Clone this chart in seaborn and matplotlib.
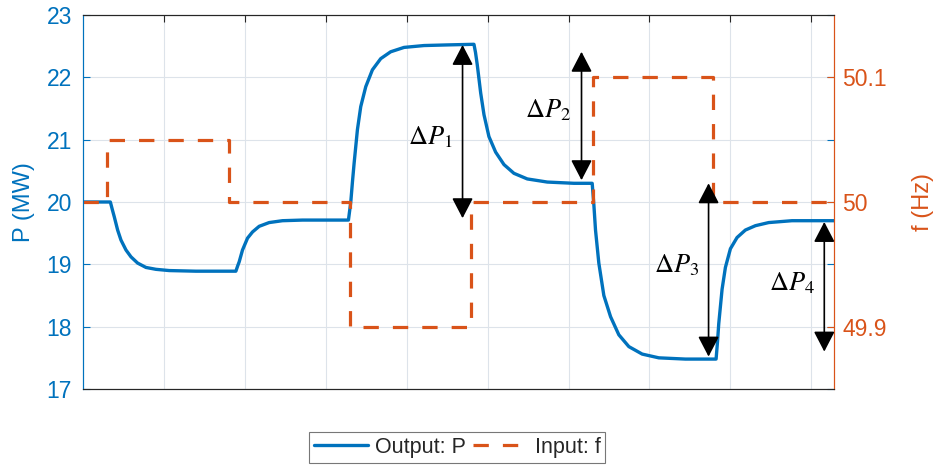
import numpy as np
import pandas as pd
import matplotlib
matplotlib.use("Agg")
import matplotlib.pyplot as plt
import seaborn as sns

# ---- data ----
t_P = [0, 3.38, 3.62, 3.87, 4.28, 4.69, 5.31, 5.93, 6.75, 7.78, 9.01, 10.66, 13.95, 18.89,
       19.10, 19.30, 19.71, 20.33, 20.95, 21.77, 23.00, 24.65, 27.12, 32.8,
       33.09, 33.30, 33.50, 33.91, 34.32, 34.94, 35.76, 36.79, 38.02, 39.67, 42.14, 45.02, 48.31,
       48.50, 48.72, 49.14, 49.55, 50.16, 50.99, 52.02, 53.25, 54.90, 57.37, 60.66, 62.92,
       63.13, 63.33, 63.74, 64.36, 65.19, 66.21, 67.45, 69.10, 71.15, 74.44, 78.23,
       78.40, 78.56, 78.97, 79.38, 80.0, 80.82, 81.85, 83.09, 84.73, 87.61, 92.8]
P_MW = [20.0, 20.0, 19.88, 19.76, 19.55, 19.39, 19.23, 19.12, 19.02, 18.95, 18.92, 18.90, 18.89, 18.89,
        18.97, 19.04, 19.23, 19.42, 19.52, 19.61, 19.67, 19.70, 19.71, 19.71,
        20.0, 20.33, 20.62, 21.16, 21.53, 21.85, 22.12, 22.30, 22.41, 22.48, 22.51, 22.52, 22.53,
        22.40, 22.2, 21.75, 21.4, 21.05, 20.8, 20.6, 20.46, 20.37, 20.32, 20.30, 20.30,
        19.95, 19.55, 19.02, 18.5, 18.16, 17.87, 17.68, 17.56, 17.50, 17.48, 17.48,
        17.75, 18.05, 18.6, 18.95, 19.25, 19.43, 19.55, 19.62, 19.67, 19.70, 19.70]

t_f = [0, 3.0, 18.0, 33.0, 47.9, 63.0, 77.8, 92.8]
f_Hz = [50.0, 50.05, 50.0, 49.9, 50.0, 50.1, 50.0, 50.0]

p_ticks = [17, 18, 19, 20, 21, 22, 23]
f_ticks = [49.9, 50.0, 50.1]
f_tick_labels = ["49.9", "50", "50.1"]
x_ticks = [10, 20, 30, 40, 50, 60, 70, 80, 90]

# annotation arrows: x, P bottom, P top ; labels: text, x, P
arrow_x = [46.9, 61.6, 77.3, 91.6]
arrow_lo = [19.74, 20.35, 17.52, 17.60]
arrow_hi = [22.52, 22.41, 20.30, 19.68]
lab_text = [r"$\Delta P_1$", r"$\Delta P_2$", r"$\Delta P_3$", r"$\Delta P_4$"]
lab_x = [42.96, 57.5, 73.3, 87.6]
lab_y = [21.04, 21.48, 18.99, 18.70]

BLUE = "#0072BD"
ORANGE = "#D95319"
DARK = "#262626"

sns.set_theme(style="white")
plt.rcParams["font.family"] = ["Liberation Sans", "DejaVu Sans"]
plt.rcParams["mathtext.fontset"] = "stix"

fig = plt.figure(figsize=(9.35, 4.68), dpi=100)
ax = fig.add_axes([83 / 935, 1 - 389 / 468, 751 / 935, 374 / 468])
ax2 = ax.twinx()

dfP = pd.DataFrame({"t": t_P, "P": P_MW})
dff = pd.DataFrame({"t": t_f, "f": f_Hz})

sns.lineplot(data=dfP, x="t", y="P", ax=ax, color=BLUE, linewidth=2.4,
             label="Output: P", sort=False, legend=False)
sns.lineplot(data=dff, x="t", y="f", ax=ax2, color=ORANGE, linewidth=2.3,
             label="Input: f", drawstyle="steps-post", sort=False, legend=False)
ax2.lines[0].set_dashes([4.8, 4.4])

ax.set_xlim(0, 92.8)
ax.set_ylim(17, 23)
ax2.set_ylim(49.85, 50.15)
ax.set_xticks(x_ticks)
ax.set_xticklabels([])
ax.set_yticks(p_ticks)
ax2.set_yticks(f_ticks)
ax2.set_yticklabels(f_tick_labels)
ax.set_xlabel("")

ax.grid(True, color="#dde3ea", linewidth=0.8)
ax2.grid(False)

ax.tick_params(axis="y", colors=BLUE, labelsize=16.5, direction="in", length=5,
               width=0.8, pad=8, right=True, labelright=False)
ax.tick_params(axis="x", direction="in", length=5, width=0.8, colors=DARK, top=True)
ax2.tick_params(axis="y", colors=ORANGE, labelsize=16.5, direction="in", length=5,
                width=0.8, pad=6)
ax.set_ylabel("P (MW)", color=BLUE, fontsize=17, labelpad=8)
ax2.set_ylabel("f (Hz)", color=ORANGE, fontsize=17, labelpad=18)

for a in (ax, ax2):
    for s in a.spines.values():
        s.set_linewidth(0.8)
    a.spines["top"].set_color(DARK)
    a.spines["bottom"].set_color(DARK)
    a.spines["left"].set_color(BLUE)
    a.spines["right"].set_color(ORANGE)
    a.set_xlabel("")

for x, lo, hi in zip(arrow_x, arrow_lo, arrow_hi):
    ax2.annotate("", xy=(x, lo), xytext=(x, hi), xycoords=ax.transData,
                 textcoords=ax.transData,
                 arrowprops=dict(arrowstyle="<|-|>,head_length=1.25,head_width=0.65",
                                 mutation_scale=10, color="black", lw=1.2,
                                 shrinkA=0, shrinkB=0), zorder=5)
for s, x, y in zip(lab_text, lab_x, lab_y):
    ax2.text(x, y, s, transform=ax.transData, fontsize=19, ha="center",
             va="center", color="black", zorder=6)

h1, l1 = ax.get_legend_handles_labels()
h2, l2 = ax2.get_legend_handles_labels()
leg = fig.legend(h1 + h2, l1 + l2, loc="center", bbox_to_anchor=(0.489, 0.044),
                 ncol=2, fontsize=15.5, frameon=True, fancybox=False,
                 edgecolor="#555555", handlelength=2.5, columnspacing=0.35,
                 handletextpad=0.35, borderpad=0.22, borderaxespad=0)
leg.get_frame().set_linewidth(0.8)

fig.savefig("out.png", dpi=100)
